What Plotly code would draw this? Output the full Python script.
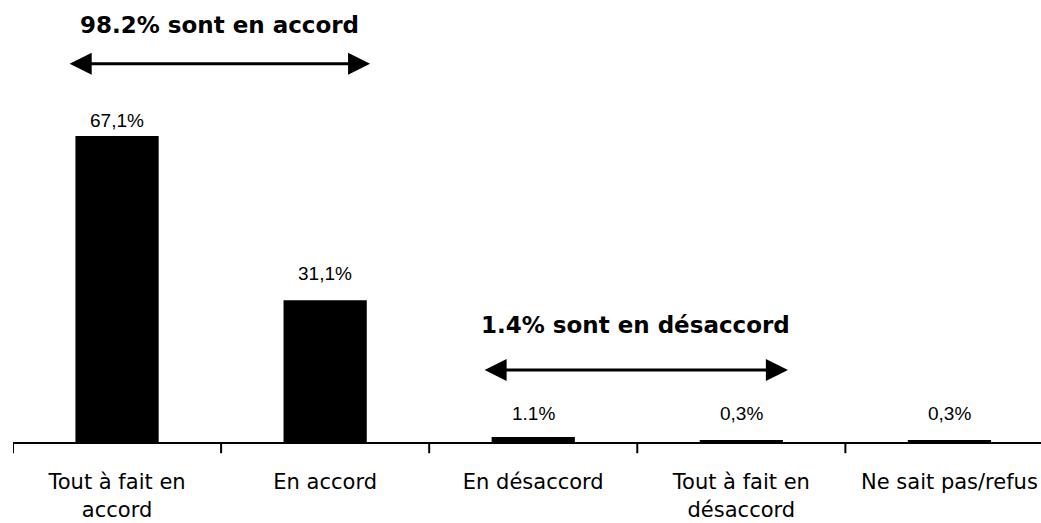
import plotly.graph_objects as go

categories = ["Tout à fait en<br>accord", "En accord", "En désaccord", "Tout à fait en<br>désaccord", "Ne sait pas/refus"]
values = [67.1, 31.1, 1.1, 0.3, 0.3]
value_labels = ["67,1%", "31,1%", "1.1%", "0,3%", "0,3%"]
label_shift = [3, 14, 11, 15, 15]

groups = [
    {"text": "<b>98.2% sont en accord</b>", "x0": -0.235, "x1": 1.216, "y_text": 91.4, "y_arrow": 82.9},
    {"text": "<b>1.4% sont en désaccord</b>", "x0": 1.759, "x1": 3.224, "y_text": 25.7, "y_arrow": 15.8},
]

fig = go.Figure()
fig.add_trace(go.Bar(
    x=list(range(len(categories))), y=values, width=0.4,
    marker=dict(color="black", line=dict(width=0)),
    hoverinfo="skip",
))

for i, (v, lab) in enumerate(zip(values, value_labels)):
    fig.add_annotation(x=i, y=v, text=lab, showarrow=False, yanchor="bottom",
                       yshift=label_shift[i],
                       font=dict(family="Liberation Sans, Arial", size=19, color="black"))

for g in groups:
    fig.add_annotation(x=(g["x0"] + g["x1"]) / 2, y=g["y_text"], text=g["text"], showarrow=False,
                       font=dict(family="DejaVu Sans, Verdana", size=23, color="black"))
    fig.add_annotation(x=g["x1"], y=g["y_arrow"], ax=g["x0"], ay=g["y_arrow"],
                       xref="x", yref="y", axref="x", ayref="y", text="",
                       showarrow=True, arrowhead=2, startarrowhead=2, arrowside="end+start",
                       arrowwidth=3, arrowsize=1.47, startarrowsize=1.47, arrowcolor="black")

fig.update_layout(
    width=1041, height=523,
    margin=dict(l=13, r=0, t=10, b=81),
    plot_bgcolor="white", paper_bgcolor="white",
    showlegend=False,
)
fig.update_xaxes(
    tickmode="array", tickvals=list(range(len(categories))), ticktext=categories,
    range=[-0.5, 4.44], showline=True, linecolor="black", linewidth=2,
    showgrid=False, zeroline=False, ticks="", ticklabelstandoff=20,
    tickfont=dict(family="DejaVu Sans, Verdana", size=21, color="black"),
)
fig.update_yaxes(range=[0, 94.7], visible=False, showgrid=False, zeroline=False)

# boundary tick marks between categories
for b in [-0.5, 0.5, 1.5, 2.5, 3.5]:
    fig.add_shape(type="line", x0=b, x1=b, xref="x", yref="paper", y0=0, y1=-0.026,
                  line=dict(color="black", width=2))

fig.write_html("out.html", config={"displayModeBar": False},
               post_script="document.body.style.margin='0';document.body.style.overflow='hidden';")
